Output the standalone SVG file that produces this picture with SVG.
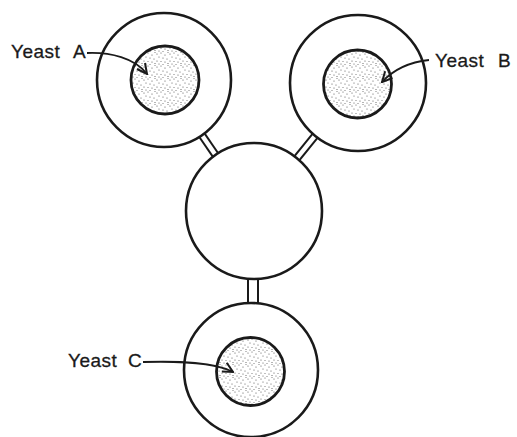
<svg xmlns="http://www.w3.org/2000/svg" width="517" height="437" viewBox="0 0 517 437">
<style>
.cell{fill:#fff;stroke:#1a1a1a;stroke-width:2.6}
.nuc{fill:url(#stip);stroke:#1a1a1a;stroke-width:2.8}
.tube{stroke:#1a1a1a;stroke-width:2;fill:none}
.arr{fill:none;stroke:#1a1a1a;stroke-width:1.8;marker-end:url(#ah)}
.lbl{font-family:"Liberation Sans",Arial,sans-serif;font-size:19px;fill:#1a1a1a;stroke:#1a1a1a;stroke-width:0.3;letter-spacing:0.5px}
</style>
<defs>
<pattern id="stip" width="13" height="13" patternUnits="userSpaceOnUse">
<rect width="13" height="13" fill="#fff"/>
<g fill="#555">
<circle cx="1" cy="2" r="0.6"/><circle cx="5" cy="1" r="0.55"/><circle cx="9" cy="3" r="0.6"/><circle cx="12" cy="0.5" r="0.5"/>
<circle cx="3" cy="5" r="0.55"/><circle cx="7" cy="6" r="0.6"/><circle cx="11" cy="7" r="0.55"/>
<circle cx="1" cy="9" r="0.6"/><circle cx="5" cy="9.5" r="0.5"/><circle cx="9" cy="10" r="0.6"/>
<circle cx="3" cy="12" r="0.55"/><circle cx="7" cy="12.5" r="0.5"/><circle cx="12" cy="11.5" r="0.55"/>
</g>
</pattern>
<marker id="ah" viewBox="0 0 12 12" refX="11" refY="6" markerWidth="12" markerHeight="12" markerUnits="userSpaceOnUse" orient="auto">
<path d="M1 1 L11 6 L1 11" fill="none" stroke="#1a1a1a" stroke-width="2"/>
</marker>
</defs>
<g id="connectors">
<line class="tube" x1="200.6" y1="127.6" x2="222.6" y2="159.8"/>
<line class="tube" x1="195.4" y1="131.2" x2="217.4" y2="163.4"/>
<line class="tube" x1="322.6" y1="131.6" x2="294.4" y2="166.4"/>
<line class="tube" x1="317.6" y1="127.6" x2="289.4" y2="162.4"/>
<line class="tube" x1="248" y1="268" x2="248" y2="312"/>
<line class="tube" x1="258" y1="268" x2="258" y2="312"/>
</g>
<g id="cellA">
<circle class="cell" cx="164" cy="80" r="67"/>
<circle class="nuc" cx="165" cy="80" r="34"/>
</g>
<g id="cellB">
<circle class="cell" cx="358" cy="83" r="68"/>
<circle class="nuc" cx="357.5" cy="84" r="34"/>
</g>
<g id="center">
<circle class="cell" cx="254" cy="211" r="68"/>
</g>
<g id="cellC">
<circle class="cell" cx="251" cy="370" r="67"/>
<circle class="nuc" cx="250.5" cy="371.5" r="34"/>
</g>
<g id="labels">
<text class="lbl" x="11" y="58">Yeast<tspan x="73">A</tspan></text>
<text class="lbl" x="435" y="67">Yeast<tspan x="498">B</tspan></text>
<text class="lbl" x="68" y="367">Yeast<tspan x="128">C</tspan></text>
</g>
<g id="arrows">
<path class="arr" d="M87 53 C110 52 135 58 147 74"/>
<path class="arr" d="M429 60 C410 62 395 68 382 82"/>
<path class="arr" d="M143 362 C180 361 215 362 233 372"/>
</g>
</svg>
